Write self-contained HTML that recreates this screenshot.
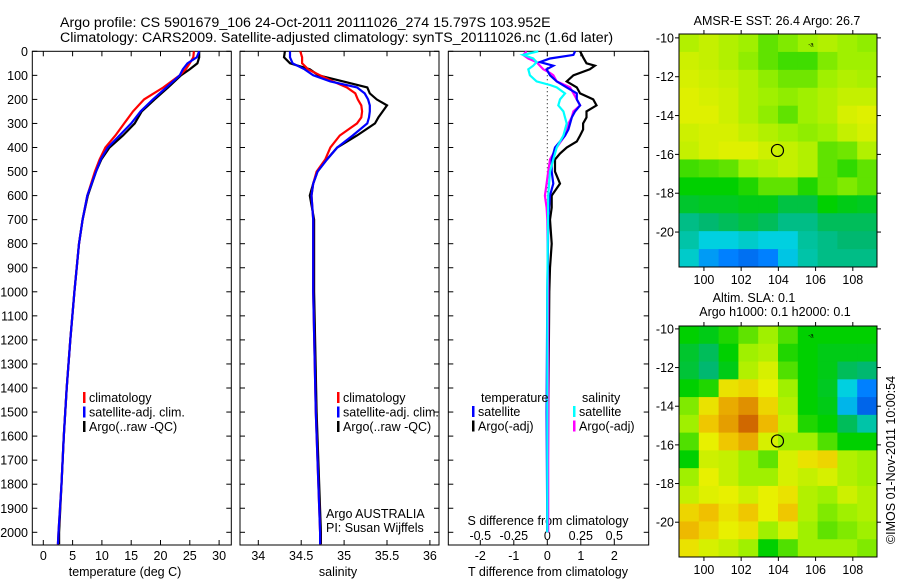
<!DOCTYPE html>
<html><head><meta charset="utf-8"><style>
html,body{margin:0;padding:0;background:#fff;}
svg{display:block;font-family:"Liberation Sans",sans-serif;}
text{fill:#000;}
</style></head><body>
<svg id="fig" width="900" height="580" viewBox="0 0 900 580" xmlns="http://www.w3.org/2000/svg">
<text x="60" y="27" font-size="14.2">Argo profile: CS 5901679_106 24-Oct-2011 20111026_274 15.797S 103.952E</text>
<text x="60" y="42" font-size="14.2">Climatology: CARS2009. Satellite-adjusted climatology: synTS_20111026.nc (1.6d later)</text>
<g id="g"></g>
</svg>
<script>
// ---- profile data ----
const depthT=[0,25,50,75,100,150,200,250,300,350,400,450,500,600,700,800,900,1000,1200,1400,1600,1800,2000,2050];
const tempClim=[25.7,25.6,25.0,24.3,23.3,20.5,17.2,15.3,13.8,12.3,10.6,9.6,8.8,7.5,6.7,6.1,5.7,5.3,4.6,4.0,3.5,3.1,2.6,2.5];
const tempSat=[26.6,26.2,24.6,23.8,23.3,21.0,18.7,16.6,15.0,13.0,11.0,9.8,9.0,7.5,6.7,6.1,5.7,5.3,4.6,4.0,3.5,3.1,2.6,2.5];
const tempArgo=[26.6,26.6,26.3,25.0,23.5,21.3,19.0,16.8,15.6,13.6,11.3,9.9,9.0,7.6,6.7,6.1,5.7,5.3,4.6,4.0,3.5,3.1,2.7,2.7];
const depthS=[0,25,50,75,100,125,150,175,200,225,250,275,300,350,400,450,500,550,600,700,1000,1500,2000,2050];
const salClim=[34.49,34.51,34.51,34.58,34.72,34.87,35.03,35.13,35.16,35.20,35.21,35.20,35.15,34.95,34.84,34.78,34.68,34.64,34.62,34.64,34.64,34.67,34.72,34.72];
const salSat=[34.37,34.37,34.40,34.54,34.64,34.84,35.15,35.24,35.28,35.30,35.30,35.29,35.27,35.10,34.92,34.80,34.69,34.64,34.62,34.64,34.64,34.67,34.72,34.72];
const salArgo=[34.31,34.30,34.37,34.60,34.70,34.99,35.27,35.30,35.38,35.50,35.45,35.40,35.36,35.15,34.92,34.80,34.69,34.64,34.60,34.65,34.65,34.68,34.73,34.73];
// ---- difference data ----
const depthDTs=[0,15,30,45,60,75,100,125,150,175,200,225,250,275,300,325,350,400,450,500,550,600,700,1000,1500,2000];
const dTsat=[0.83,0.78,0.08,-0.22,0.18,-0.02,0.08,0.28,0.58,0.88,0.88,0.98,0.83,0.73,0.68,0.63,0.53,0.23,0.13,0.13,0.18,0.08,0.03,0,-0.02,0];
const depthDTa=[0,25,50,60,75,100,125,150,175,200,225,250,275,300,325,350,375,400,425,450,500,550,600,650,700,800,900,1000,1500,2000];
const dTargo=[0.98,1.07,1.17,1.42,1.27,0.78,0.58,0.88,0.98,1.37,1.47,1.17,1.17,1.07,1.07,0.98,0.88,0.58,0.38,0.23,0.23,0.38,0.13,0.13,0.08,0.13,0.08,0.06,0.03,0];
const depthDSs=[0,15,30,45,60,75,100,125,140,150,175,200,225,250,275,300,350,400,450,500,600,1000,2000];
const dSsat=[-0.067,-0.18,-0.105,-0.08,-0.105,-0.142,-0.13,-0.08,0.02,0.07,0.132,0.095,0.082,0.12,0.132,0.145,0.12,0.07,0.045,0.02,0.007,0,0];
const depthDSa=[0,15,30,45,60,75,90,100,125,150,175,200,225,250,275,300,350,400,450,500,550,600,650,700,1000,2000];
const dSargo=[-0.155,-0.18,-0.142,-0.08,-0.055,-0.03,0.02,0.045,0.07,0.17,0.195,0.22,0.245,0.195,0.182,0.158,0.132,0.07,0.02,0.007,-0.005,-0.018,-0.005,0,0.007,0.007];
// ---- tick labels ----
const depthTicks=[0,100,200,300,400,500,600,700,800,900,1000,1100,1200,1300,1400,1500,1600,1700,1800,1900,2000];
const tempTicks=[0,5,10,15,20,25,30];
const salTicks=[34,34.5,35,35.5,36];
const dTTicks=[-2,-1,0,1,2];
const dSTicks=[-0.5,-0.25,0,0.25,0.5];
const lonTicks=[100,102,104,106,108];
const latTicks=[-10,-12,-14,-16,-18,-20];
// ---- map grids (10 cols x 13 rows, normalised colour value) ----
const sstGrid=[
[0.62,0.64,0.62,0.60,0.56,0.58,0.60,0.62,0.60,0.59],
[0.65,0.64,0.62,0.59,0.56,0.54,0.54,0.58,0.60,0.60],
[0.66,0.65,0.64,0.62,0.59,0.57,0.57,0.60,0.62,0.61],
[0.67,0.66,0.65,0.62,0.60,0.59,0.60,0.62,0.64,0.64],
[0.67,0.67,0.65,0.62,0.59,0.56,0.60,0.62,0.66,0.67],
[0.65,0.66,0.66,0.64,0.62,0.60,0.59,0.60,0.64,0.66],
[0.64,0.66,0.67,0.67,0.65,0.64,0.62,0.56,0.57,0.62],
[0.54,0.55,0.56,0.60,0.62,0.64,0.62,0.56,0.53,0.56],
[0.50,0.50,0.50,0.52,0.56,0.56,0.52,0.56,0.58,0.56],
[0.46,0.47,0.47,0.48,0.48,0.44,0.44,0.50,0.48,0.47],
[0.38,0.40,0.42,0.44,0.42,0.38,0.38,0.42,0.42,0.42],
[0.35,0.30,0.30,0.32,0.30,0.30,0.36,0.38,0.40,0.40],
[0.32,0.20,0.15,0.12,0.15,0.28,0.35,0.38,0.38,0.38]];
const slaGrid=[
[0.50,0.48,0.52,0.56,0.60,0.55,0.50,0.50,0.50,0.50],
[0.46,0.42,0.50,0.60,0.62,0.52,0.50,0.48,0.48,0.48],
[0.45,0.40,0.48,0.62,0.66,0.55,0.50,0.48,0.42,0.40],
[0.50,0.52,0.70,0.72,0.68,0.60,0.50,0.47,0.30,0.15],
[0.58,0.70,0.78,0.82,0.72,0.62,0.50,0.48,0.25,0.10],
[0.60,0.74,0.80,0.86,0.76,0.64,0.52,0.50,0.42,0.35],
[0.55,0.68,0.74,0.78,0.66,0.60,0.60,0.55,0.50,0.50],
[0.50,0.65,0.64,0.60,0.56,0.66,0.70,0.72,0.62,0.60],
[0.60,0.68,0.64,0.60,0.60,0.66,0.64,0.66,0.62,0.60],
[0.64,0.67,0.68,0.65,0.68,0.70,0.62,0.60,0.65,0.62],
[0.72,0.75,0.70,0.74,0.68,0.74,0.62,0.58,0.60,0.62],
[0.76,0.72,0.68,0.70,0.60,0.66,0.60,0.56,0.58,0.60],
[0.70,0.66,0.64,0.60,0.50,0.55,0.60,0.60,0.60,0.58]];
const argoLon=103.952, argoLat=-15.797;

const NS='http://www.w3.org/2000/svg';
const G=document.getElementById('g');
function mk(tag,attrs,parent){const e=document.createElementNS(NS,tag);for(const k in attrs)e.setAttribute(k,attrs[k]);(parent||G).appendChild(e);return e;}
function txt(s,x,y,anchor,size,parent){const t=mk('text',{x:x,y:y,'text-anchor':anchor||'start','font-size':size||12},parent);t.textContent=s;return t;}

const PT={x0:32.3,x1:231.3}, PS={x0:240,x1:439}, PD={x0:448.3,x1:648.7};
const yTop=51.3, yBot=545;
const yD=d=>yTop+d*0.2405;
const xT=v=>43.3+v*5.86;
const xS=s=>258.3+(s-34)*85.8;
const xDT=v=>547.3+v*33.5;
const xDS=s=>547.3+s*4*33.5;

function panel(P,name,xTicks,xf){
  const r=mk('rect',{x:P.x0,y:yTop,width:P.x1-P.x0,height:yBot-yTop,fill:'none',stroke:'#000','stroke-width':1});
  
  
  depthTicks.forEach(d=>{const y=yD(d);
    mk('line',{x1:P.x0,x2:P.x0+5,y1:y,y2:y,stroke:'#000'});
    mk('line',{x1:P.x1-5,x2:P.x1,y1:y,y2:y,stroke:'#000'});});
  xTicks.forEach(v=>{const x=xf(v);
    mk('line',{x1:x,x2:x,y1:yTop,y2:yTop+5,stroke:'#000'});
    mk('line',{x1:x,x2:x,y1:yBot-5,y2:yBot,stroke:'#000'});});
}
function line(ds,vs,xf,color,name,w){
  const pts=ds.map((d,i)=>xf(vs[i]).toFixed(1)+','+Math.min(yD(d),yBot).toFixed(1)).join(' ');
  const p=mk('polyline',{points:pts,fill:'none',stroke:color,'stroke-width':w||2.2,'stroke-linejoin':'miter'});
  
  
}
function legend(x,y,items){
  items.forEach((it,i)=>{
    mk('rect',{x:x,y:y+i*14.5-10,width:2.5,height:11,fill:it[1]});
    const t=txt(it[0],x+6,y+i*14.5,'start',12.5);
    
    
  });
}

depthTicks.forEach(d=>{const t=txt(String(d),28,yD(d)+4.5,'end',12.5);
  
  });

panel(PT,'temperature-panel',tempTicks,xT);
tempTicks.forEach(v=>{const t=txt(String(v),xT(v),560,'middle',12.5);
  
  });
let t=txt('temperature (deg C)',125,576,'middle',12.5);


line(depthT,tempArgo,xT,'#000','temp-argo-line');
line(depthT,tempClim,xT,'#f00','temp-climatology-line');
line(depthT,tempSat,xT,'#0000ff','temp-satellite-line');
legend(83,402,[['climatology','#f00','climatology'],['satellite-adj. clim.','#0000ff','satellite'],['Argo(..raw -QC)','#000','argo']]);

panel(PS,'salinity-panel',salTicks,xS);
salTicks.forEach(v=>{const t=txt(String(v),xS(v),560,'middle',12.5);
  
  });
t=txt('salinity',338,576,'middle',12.5);


line(depthS,salArgo,xS,'#000','sal-argo-line');
line(depthS,salClim,xS,'#f00','sal-climatology-line');
line(depthS,salSat,xS,'#0000ff','sal-satellite-line');
legend(337,402,[['climatology','#f00','s-climatology'],['satellite-adj. clim.','#0000ff','s-satellite'],['Argo(..raw -QC)','#000','s-argo']]);
t=txt('Argo AUSTRALIA',326,518,'start',12.5);


t=txt('PI: Susan Wijffels',326,532,'start',12.5);



panel(PD,'difference-panel',dTTicks,xDT);
mk('line',{x1:xDT(0),x2:xDT(0),y1:yTop,y2:yD(620),stroke:'#000','stroke-dasharray':'1,3'});
dTTicks.forEach(v=>{const t=txt(String(v),xDT(v),560,'middle',12.5);
  
  });
dSTicks.forEach(v=>{const t=txt(String(v),xDS(v),540,'middle',12.5);
  
  });
t=txt('T difference from climatology',548,576,'middle',12.5);


t=txt('S difference from climatology',548,525,'middle',12.5);


line(depthDTa,dTargo,xDT,'#000','dT-argo-line');
line(depthDSa,dSargo,xDS,'#ff00ff','dS-argo-line');
line(depthDTs,dTsat,xDT,'#0000ff','dT-satellite-line');
line(depthDSs,dSsat,xDS,'#00ffff','dS-satellite-line');
t=txt('temperature',481,402,'start',12.5);


t=txt('salinity',582,402,'start',12.5);


legend(472,416,[['satellite','#0000ff','dT-satellite'],['Argo(-adj)','#000','dT-argo']]);
legend(573,416,[['satellite','#00ffff','dS-satellite'],['Argo(-adj)','#ff00ff','dS-argo']]);

const stops=[[0,[0,48,192]],[0.15,[0,128,255]],[0.3,[0,208,224]],[0.4,[0,184,112]],[0.5,[0,208,0]],[0.6,[160,240,0]],[0.68,[232,240,0]],[0.75,[240,192,0]],[0.82,[224,144,0]],[0.9,[192,64,0]],[1,[160,0,0]]];
function cmap(v){for(let i=1;i<stops.length;i++){if(v<=stops[i][0]){const a=stops[i-1],b=stops[i],f=(v-a[0])/(b[0]-a[0]);
  const c=a[1].map((x,k)=>Math.round(x+(b[1][k]-x)*f));return 'rgb('+c+')';}}return 'rgb(160,0,0)';}

function map(M,grid,name){
  const lx=v=>M.x0+(v-M.lon0)*(M.x1-M.x0)/(M.lon1-M.lon0);
  const ly=v=>M.y0+(M.lat0-v)*(M.y1-M.y0)/(M.lat0-M.lat1);
  const rows=grid.length, cols=grid[0].length;
  const cw=(M.x1-M.x0)/cols, ch=(M.y1-M.y0)/rows;
  grid.forEach((row,r)=>row.forEach((v,c)=>{
    const cell=mk('rect',{x:(M.x0+c*cw).toFixed(2),y:(M.y0+r*ch).toFixed(2),width:(cw+0.5).toFixed(2),height:(ch+0.5).toFixed(2),fill:cmap(v)});
    
    
  }));
  const fr=mk('rect',{x:M.x0,y:M.y0,width:M.x1-M.x0,height:M.y1-M.y0,fill:'none',stroke:'#000'});
  
  
  lonTicks.forEach(v=>{const x=lx(v);
    mk('line',{x1:x,x2:x,y1:M.y0-4,y2:M.y0,stroke:'#000'});
    mk('line',{x1:x,x2:x,y1:M.y1,y2:M.y1+4,stroke:'#000'});
    const t=txt(String(v),x,M.y1+17,'middle',12.5);
    
    });
  latTicks.forEach(v=>{const y=ly(v);
    mk('line',{x1:M.x0-4,x2:M.x0,y1:y,y2:y,stroke:'#000'});
    mk('line',{x1:M.x1,x2:M.x1+4,y1:y,y2:y,stroke:'#000'});
    const t=txt(String(v),M.x0-5,y+4.5,'end',12.5);
    
    });
  const c=mk('circle',{cx:lx(argoLon),cy:ly(argoLat),r:6,fill:'none',stroke:'#000','stroke-width':1.2});
  
  
  const m=txt('-a',lx(105.75),ly(-10.45),'middle',6);
  
  
}
map({x0:679,x1:877,y0:34,y1:267,lon0:98.66,lon1:109.3,lat0:-9.8,lat1:-21.8},sstGrid,'sst-map');
map({x0:679,x1:877,y0:326,y1:557,lon0:98.66,lon1:109.3,lat0:-9.85,lat1:-21.8},slaGrid,'sla-map');
t=txt('AMSR-E SST: 26.4 Argo: 26.7',777,25,'middle',12.5);


t=txt('Altim. SLA: 0.1',754,302,'middle',12.5);


t=txt('Argo h1000: 0.1 h2000: 0.1',775,316,'middle',12.5);


t=txt('©IMOS 01-Nov-2011 10:00:54',0,0,'middle',12.5);
t.setAttribute('transform','translate(895,460) rotate(-90)');


</script>
</body></html>
